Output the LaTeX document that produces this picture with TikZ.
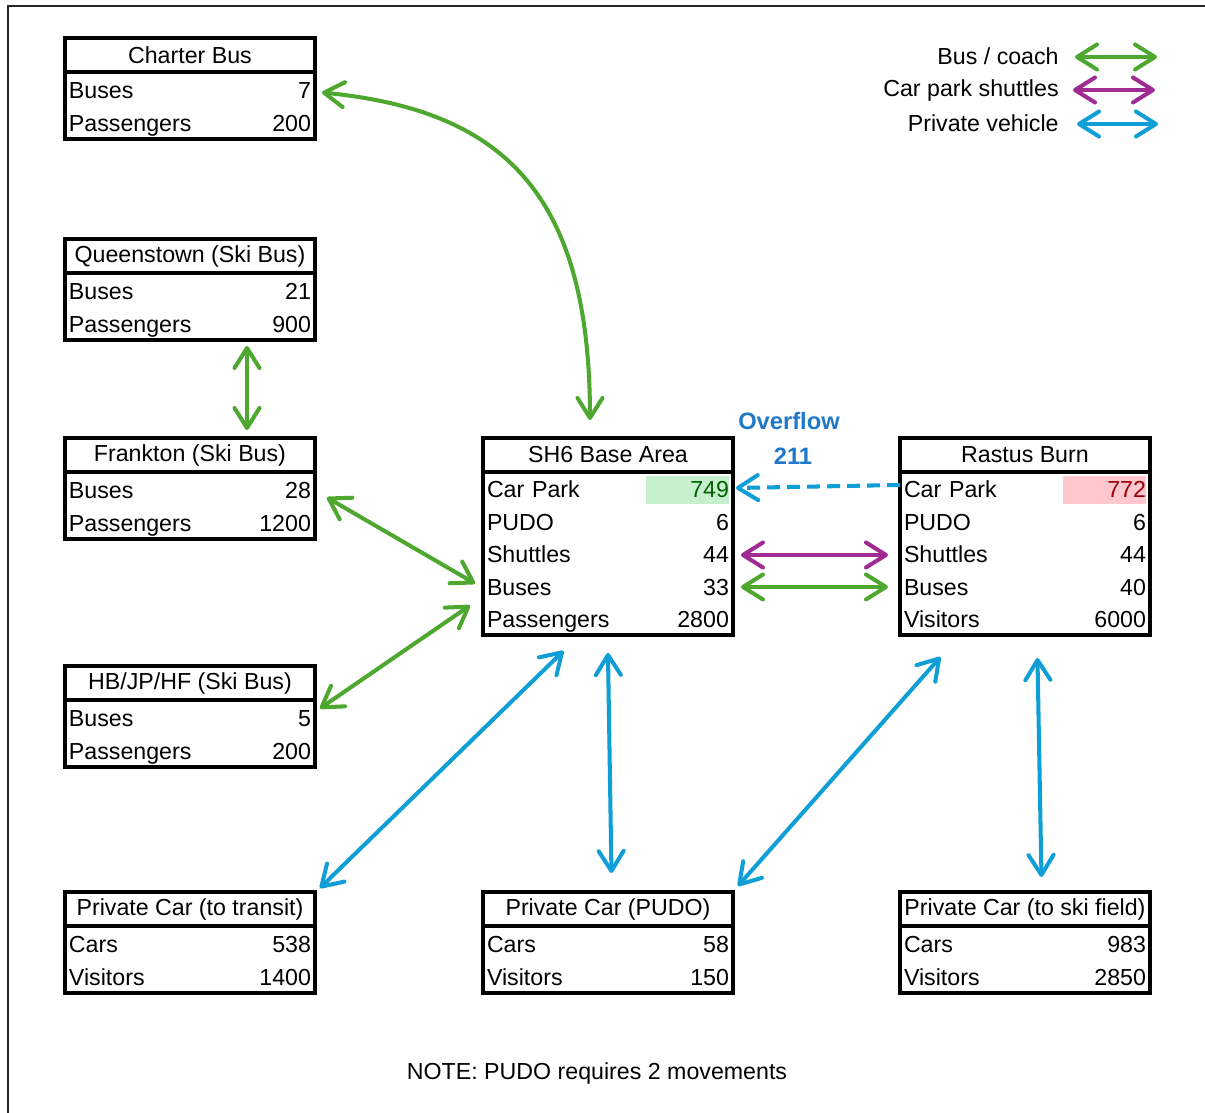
\documentclass[tikz,border=0pt]{standalone}
\usepackage{fontspec}
\setmainfont{Liberation Sans}
\usepackage{tikz}
\usetikzlibrary{positioning, arrows.meta}
\usepackage{xcolor}
\definecolor{busgreen}{HTML}{4EA72E}
\definecolor{shutpurple}{HTML}{A02B93}
\definecolor{carblue}{HTML}{0F9ED5}
\definecolor{flowblue}{HTML}{1F78C8}
\definecolor{goodbg}{HTML}{C6EFCE}
\definecolor{goodfg}{HTML}{006100}
\definecolor{badbg}{HTML}{FFC7CE}
\definecolor{badfg}{HTML}{9C0006}
\newcommand{\cellhl}[3]{{\setlength{\fboxsep}{0pt}\colorbox{#1}{\makebox[1.66cm][r]{\rule[-3.4pt]{0pt}{15.9pt}\color{#2}#3}}}}
\newcommand{\firstrow}{\rule{0pt}{13.5pt}}
\newcommand{\lastrow}{\rule[-2.9pt]{0pt}{0pt}}

\begin{document}
\begin{tikzpicture}[x=0.02cm, y=-0.02cm, font=\fontsize{13.2}{18.5}\selectfont,
  ttitle/.style={draw, line width=1.9pt, outer sep=0pt, anchor=north west, minimum width=5cm, minimum height=0.68cm, inner xsep=0.05cm},
  tbody/.style={draw, line width=1.9pt, outer sep=0pt, text width=4.84cm, inner xsep=0.08cm, inner ysep=0pt, align=left, minimum height=#1},
  >={Straight Barb[round, length=0.4cm, width=0.5cm]},
  link/.style={line width=2.3pt, <->}]
\useasboundingbox (0,0) rectangle (1205,1113);
% frame
\draw[line width=1.1pt, black!85] (8,1113) -- (8,6) -- (1205,6);

% bus sources (left column)
\node[ttitle] (charter-t) at (65,38) {Charter Bus};
\node[tbody=1.34cm, below=0pt of charter-t] (charter) {\firstrow Buses\hfill 7\\Passengers\hfill 200\lastrow};
\node[ttitle] (queens-t) at (65,239) {Queenstown (Ski Bus)};
\node[tbody=1.34cm, below=0pt of queens-t] (queens) {\firstrow Buses\hfill 21\\Passengers\hfill 900\lastrow};
\node[ttitle] (frank-t) at (65,438) {Frankton (Ski Bus)};
\node[tbody=1.34cm, below=0pt of frank-t] (frank) {\firstrow Buses\hfill 28\\Passengers\hfill 1200\lastrow};
\node[ttitle] (hbjp-t) at (65,666) {HB/JP/HF (Ski Bus)};
\node[tbody=1.34cm, below=0pt of hbjp-t] (hbjp) {\firstrow Buses\hfill 5\\Passengers\hfill 200\lastrow};

% base areas
\node[ttitle] (sh6-t) at (483,438) {SH6 Base Area};
\node[tbody=3.26cm, below=0pt of sh6-t] (sh6) {\firstrow Car Park\hfill\cellhl{goodbg}{goodfg}{749}\\PUDO\hfill 6\\Shuttles\hfill 44\\Buses\hfill 33\\Passengers\hfill 2800\lastrow};
\node[ttitle] (rastus-t) at (900,438) {Rastus Burn};
\node[tbody=3.26cm, below=0pt of rastus-t] (rastus) {\firstrow Car Park\hfill\cellhl{badbg}{badfg}{772}\\PUDO\hfill 6\\Shuttles\hfill 44\\Buses\hfill 40\\Visitors\hfill 6000\lastrow};

% private cars (bottom row)
\node[ttitle] (pctransit-t) at (65,892) {Private Car (to transit)};
\node[tbody=1.34cm, below=0pt of pctransit-t] (pctransit) {\firstrow Cars\hfill 538\\Visitors\hfill 1400\lastrow};
\node[ttitle] (pcpudo-t) at (483,892) {Private Car (PUDO)};
\node[tbody=1.34cm, below=0pt of pcpudo-t] (pcpudo) {\firstrow Cars\hfill 58\\Visitors\hfill 150\lastrow};
\node[ttitle] (pcski-t) at (900,892) {Private Car (to ski field)};
\node[tbody=1.34cm, below=0pt of pcski-t] (pcski) {\firstrow Cars\hfill 983\\Visitors\hfill 2850\lastrow};

% movements
\draw[link, busgreen] ([shift={(7,-13)}]charter.east) .. controls (500,110) and (590,190) .. ([shift={(-18,-18)}]sh6-t.north);
\draw[link, busgreen] ([shift={(57,6)}]queens.south) -- ([shift={(57,-8)}]frank-t.north);
\draw[link, busgreen] ([shift={(12,-8)}]frank.east) -- ([shift={(-8,30)}]sh6.west);
\draw[link, busgreen] ([shift={(5,-25)}]hbjp.east) -- ([shift={(-13,52)}]sh6.west);
\draw[link, carblue] ([shift={(5,-4)}]pctransit-t.north east) -- ([shift={(-44.5,16)}]sh6.south);
\draw[link, carblue] ([shift={(3.5,-19)}]pcpudo-t.north) -- ([shift={(0,18)}]sh6.south);
\draw[link, carblue] ([shift={(5,-6)}]pcpudo-t.north east) -- ([shift={(-84.5,22)}]rastus.south);
\draw[link, carblue] ([shift={(16.5,-15)}]pcski-t.north) -- ([shift={(12.5,23)}]rastus.south);
\draw[link, shutpurple] ([shift={(8,1.5)}]sh6.east) -- ([shift={(-12,1.5)}]rastus.west);
\draw[link, busgreen] ([shift={(8,33.5)}]sh6.east) -- ([shift={(-12,33.5)}]rastus.west);

% overflow
\draw[line width=2.3pt, carblue, ->, dash pattern=on 0.26cm off 0.14cm] ([shift={(0,-68.5)}]rastus.west) -- ([shift={(3,-65.5)}]sh6.east);
\node[font=\fontsize{13.5}{16}\selectfont\bfseries, text=flowblue] (ovf) at (789,421) {Overflow};
\node[font=\fontsize{13.5}{16}\selectfont\bfseries, text=flowblue] (ovf-n) at (793,456) {211};

% legend
\node[anchor=east, inner xsep=0pt] (lg-bus) at (1059,56) {Bus / coach};
\node[anchor=east, inner xsep=0pt] (lg-shut) at (1059,90) {Car park shuttles};
\node[anchor=east, inner xsep=0pt] (lg-car) at (1059,123) {Private vehicle};
\draw[link, busgreen] ([shift={(16,1)}]lg-bus.east) -- ++(82,0);
\draw[link, shutpurple] ([shift={(14,0)}]lg-shut.east) -- ++(82,0);
\draw[link, carblue] ([shift={(18,1)}]lg-car.east) -- ++(81,0);

\node (note) at (597,1073) {NOTE: PUDO requires 2 movements};
\end{tikzpicture}
\end{document}
